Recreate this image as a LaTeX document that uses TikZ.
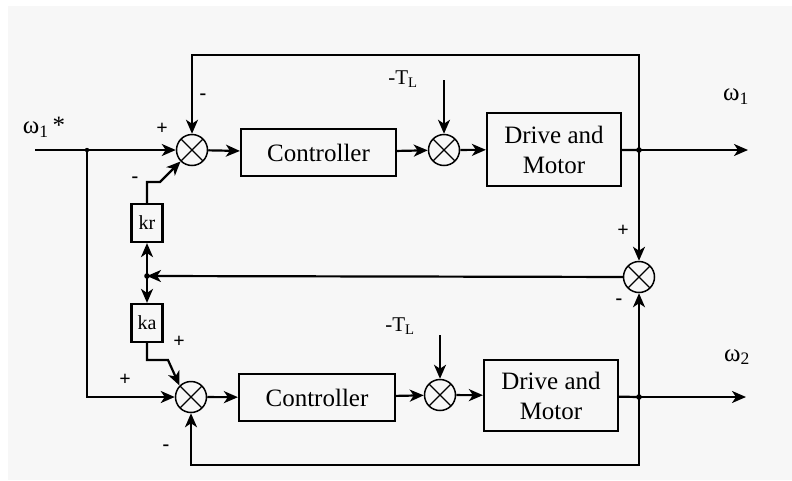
\documentclass[tikz,border=0pt]{standalone}
\usepackage{fontspec}
\setmainfont{Liberation Serif}
\usetikzlibrary{arrows.meta,calc}
\definecolor{bg}{HTML}{F7F7F7}
\begin{document}
\begin{tikzpicture}[x=1pt,y=-1pt,
 every node/.style={inner sep=0pt},
 blk/.style={draw,line width=2.2pt,align=center,font=\rmfamily\fontsize{25}{30}\selectfont},
 gain/.style={draw,line width=2.2pt,minimum width=31pt,minimum height=38pt,font=\rmfamily\fontsize{20}{20}\selectfont},
 sumnode/.style={circle,draw,line width=1.5pt,minimum size=31pt,
   path picture={\draw[line width=1.3pt] (path picture bounding box.north west) -- (path picture bounding box.south east)
     (path picture bounding box.north east) -- (path picture bounding box.south west);}},
 arr/.style={line width=2.2pt,-{Stealth[length=14pt,width=12pt,inset=4pt]}},
 ln/.style={line width=2.2pt},
 sgn/.style={font=\rmfamily\bfseries\fontsize{20}{20}\selectfont},
 lbl/.style={font=\rmfamily\fontsize{25}{25}\selectfont},
 tl/.style={font=\rmfamily\fontsize{21}{21}\selectfont}
]
\useasboundingbox (0,0) rectangle (792,480);
\fill[bg] (8,6) rectangle (792,480);

% upper loop
\node[sumnode] (sum1) at (192,150) {};
\node[blk,minimum width=155pt,minimum height=47pt] (ctrl1) at (318.5,152.5) {Controller};
\node[sumnode] (sum2) at (444,150) {};
\node[blk,minimum width=134pt,minimum height=73pt] (dm1) at (554,149.5) {Drive and\\Motor};
\coordinate (j1) at (639,150);
\coordinate (out1) at (748,150);
\coordinate (tr) at (639,55);
\coordinate (tlft) at (192,55);
\coordinate (tl1) at (444,80);

% lower loop
\node[sumnode] (sum3) at (191,397) {};
\node[blk,minimum width=156pt,minimum height=47pt] (ctrl2) at (317,397.5) {Controller};
\node[sumnode] (sum5) at (440,395) {};
\node[blk,minimum width=134pt,minimum height=71pt] (dm2) at (551,395.5) {Drive and\\Motor};
\coordinate (j2) at (639,397);
\coordinate (out2) at (746,397);
\coordinate (br) at (639,465);
\coordinate (bl) at (191,465);
\coordinate (tl2) at (440,335);

% cross coupling
\node[sumnode] (sum4) at (639,277) {};
\coordinate (jm) at (147,276);
\node[gain] (kr) at (147,223) {kr};
\node[gain] (ka) at (147,323) {ka};
\coordinate (kbend) at (160,182);
\coordinate (abend) at (168,360);

% input
\coordinate (in) at (35,150);
\coordinate (jin) at (87,150);

% connectors
\draw[ln] (in) -- (jin);
\draw[arr] (jin) -- (sum1);
\draw[arr] (jin) |- (sum3);
\draw[arr] (sum1) -- (ctrl1);
\draw[arr] (ctrl1) -- (sum2);
\draw[arr] (sum2) -- (dm1);
\draw[ln] (dm1) -- (j1);
\draw[arr] (j1) -- (out1);
\draw[arr] (j1) -- (sum4);
\draw[arr] (j1) -- (tr) -- (tlft) -- (sum1);
\draw[arr] (tl1) -- (sum2);

\draw[arr] (sum3) -- (ctrl2);
\draw[arr] (ctrl2) -- (sum5);
\draw[arr] (sum5) -- (dm2);
\draw[ln] (dm2) -- (j2);
\draw[arr] (j2) -- (out2);
\draw[arr] (j2) -- (sum4);
\draw[arr] (j2) -- (br) -- (bl) -- (sum3);
\draw[arr] (tl2) -- (sum5);

\draw[arr] (sum4) -- (jm);
\draw[arr] (jm) -- (kr);
\draw[arr] (jm) -- (ka);
\draw[arr] (kr.north) |- (kbend) -- (sum1.225);
\draw[arr] (ka.south) |- (abend) -- (sum3.135);

% junction dots
\fill (j1) circle (2.8pt);
\fill (j2) circle (2.8pt);
\fill (jm) circle (2.8pt);
\fill (jin) circle (2.2pt);

% labels
\node[lbl] (lw1s) at (44,127) {ω\textsubscript{1}\,*};
\node[lbl] (lw1) at (736,97) {ω\textsubscript{1}};
\node[lbl] (lw2) at (737,357) {ω\textsubscript{2}};
\node[tl] (ltl1) at (403,79) {-T\textsubscript{L}};
\node[tl] (ltl2) at (400,326) {-T\textsubscript{L}};
\node[sgn] (s1) at (162,129) {+};
\node[sgn] (s2) at (203,97) {-};
\node[sgn] (s3) at (135,180) {-};
\node[sgn] (s4) at (623,231) {+};
\node[sgn] (s5) at (619,302) {-};
\node[sgn] (s6) at (179,342) {+};
\node[sgn] (s7) at (125,380) {+};
\node[sgn] (s8) at (166,448) {-};
\end{tikzpicture}
\end{document}
